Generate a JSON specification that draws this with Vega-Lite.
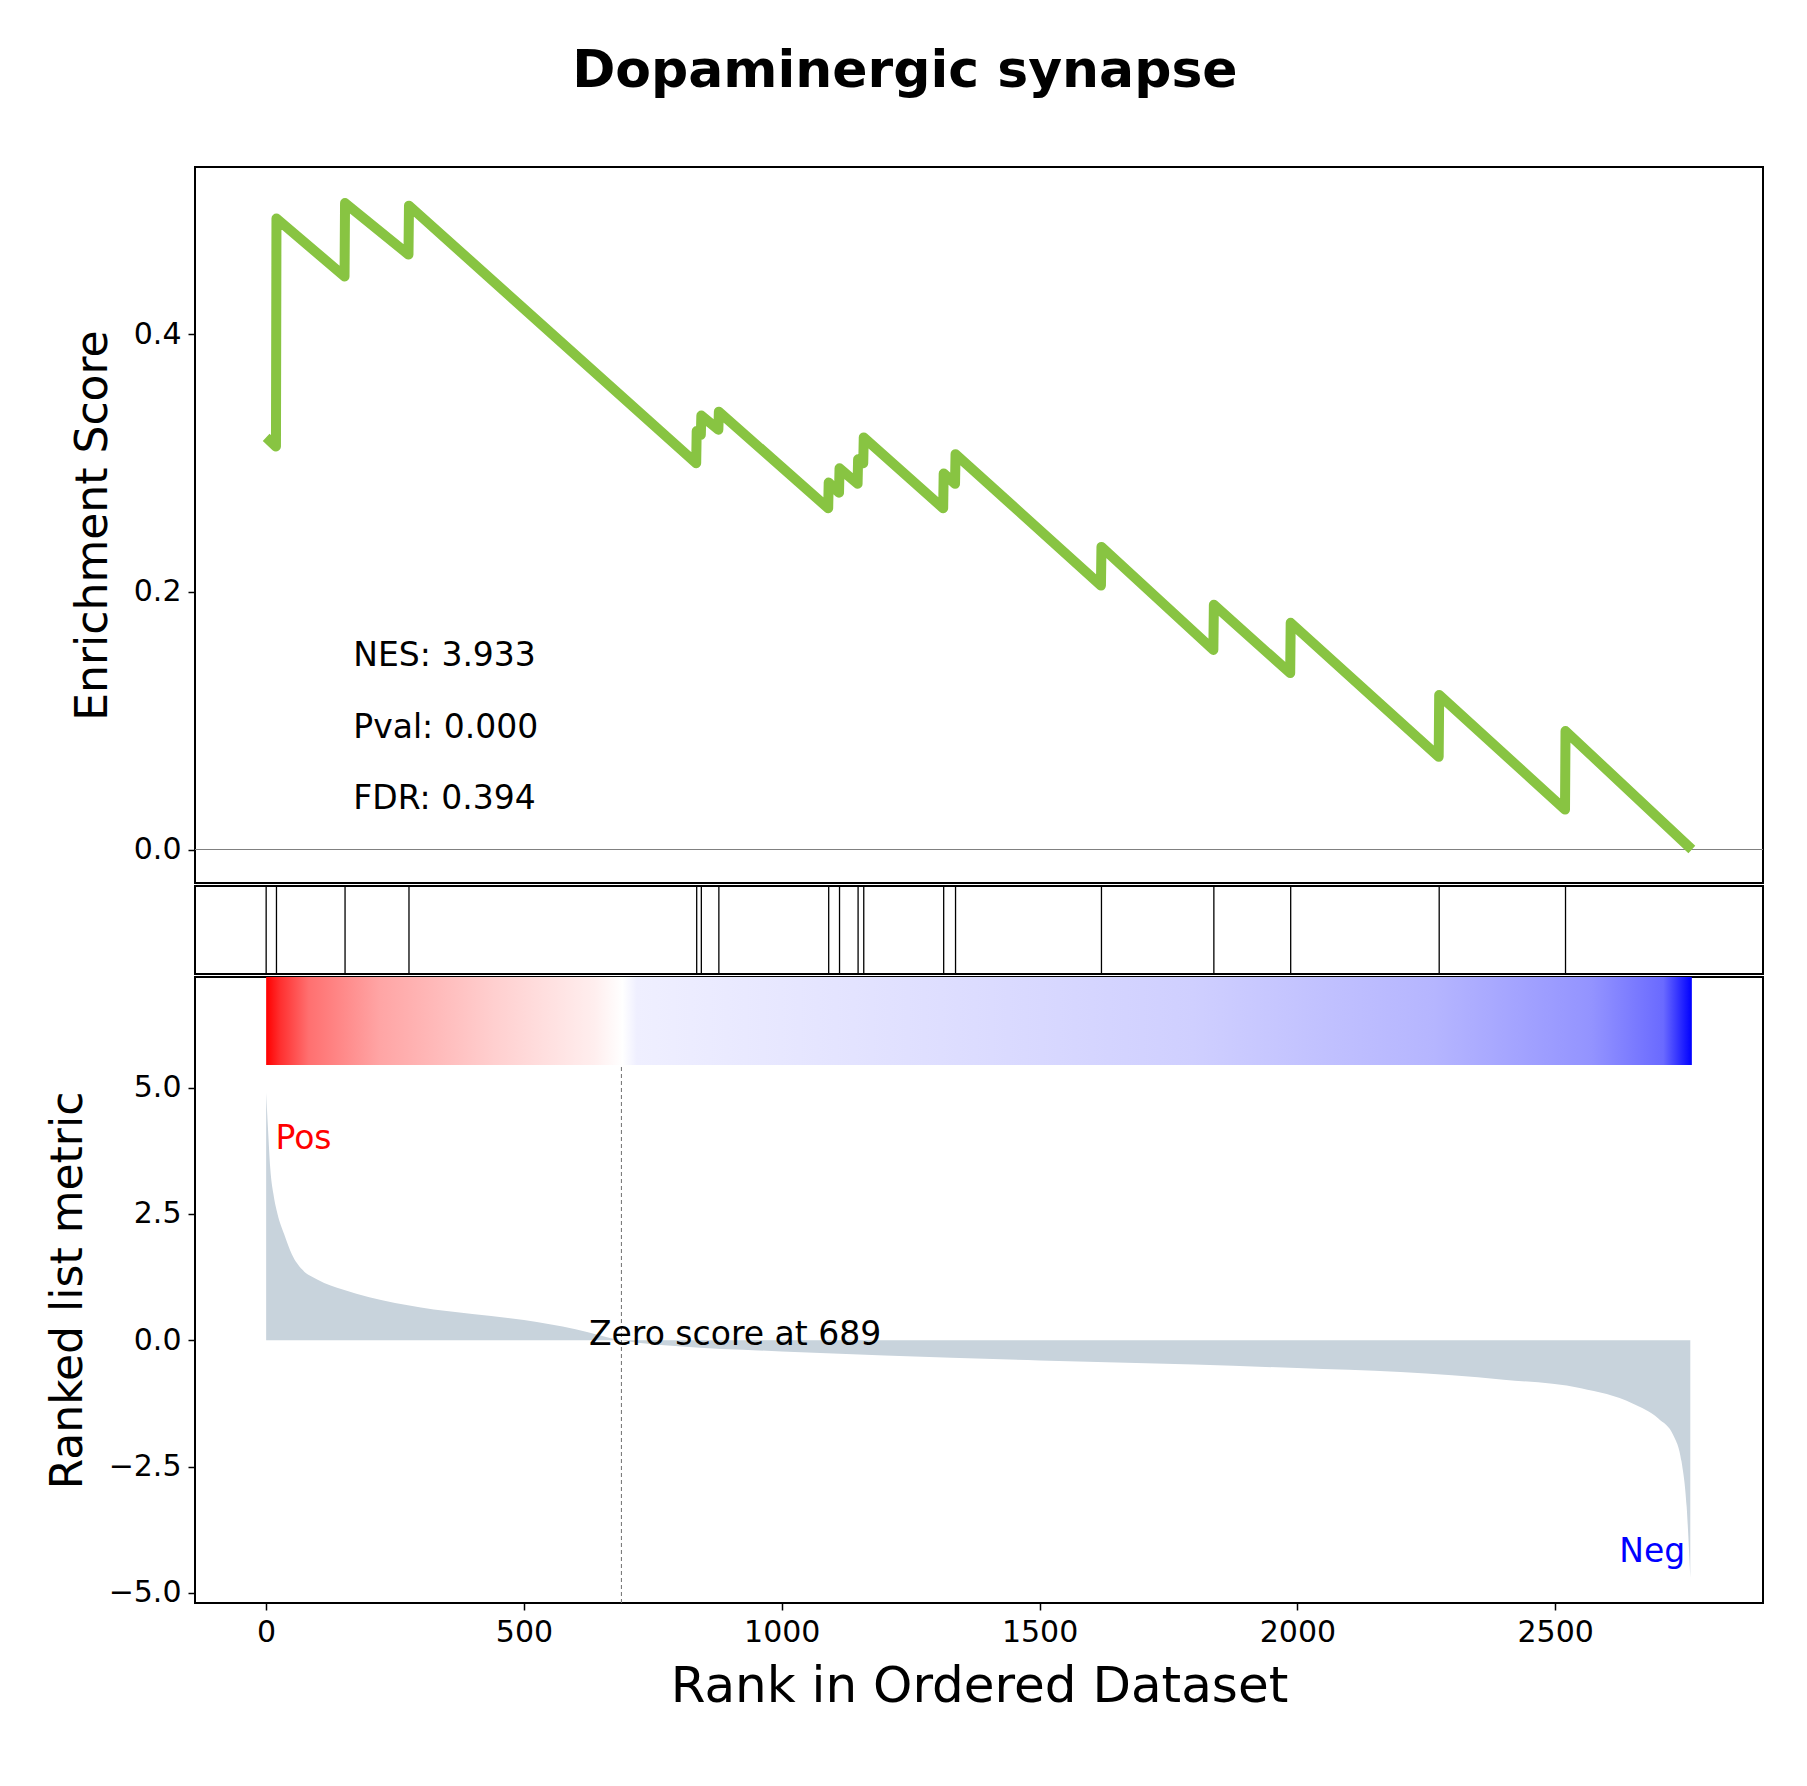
{
  "$schema": "https://vega.github.io/schema/vega-lite/v6.json",
  "background": "white",
  "padding": {"left": 45, "top": 45, "right": 25, "bottom": 10},
  "title": {"text": "Dopaminergic synapse", "fontSize": 52, "fontWeight": "bold", "font": "DejaVu Sans", "anchor": "middle", "offset": 68, "color": "black"},
  "datasets": {
    "es": [
      {"rank": 0, "es": 0.32}, {"rank": 19, "es": 0.313}, {"rank": 20, "es": 0.49},
      {"rank": 152, "es": 0.445}, {"rank": 153, "es": 0.502}, {"rank": 276, "es": 0.462},
      {"rank": 277, "es": 0.5}, {"rank": 834, "es": 0.30}, {"rank": 835, "es": 0.325},
      {"rank": 843, "es": 0.322}, {"rank": 844, "es": 0.337}, {"rank": 877, "es": 0.326},
      {"rank": 878, "es": 0.34}, {"rank": 1090, "es": 0.265}, {"rank": 1091, "es": 0.285},
      {"rank": 1111, "es": 0.277}, {"rank": 1112, "es": 0.296}, {"rank": 1147, "es": 0.284},
      {"rank": 1148, "es": 0.303}, {"rank": 1158, "es": 0.30}, {"rank": 1159, "es": 0.32},
      {"rank": 1313, "es": 0.265}, {"rank": 1314, "es": 0.292}, {"rank": 1336, "es": 0.284},
      {"rank": 1337, "es": 0.307}, {"rank": 1619, "es": 0.205}, {"rank": 1620, "es": 0.235},
      {"rank": 1837, "es": 0.155}, {"rank": 1838, "es": 0.19}, {"rank": 1986, "es": 0.137},
      {"rank": 1987, "es": 0.176}, {"rank": 2274, "es": 0.072}, {"rank": 2275, "es": 0.12},
      {"rank": 2519, "es": 0.031}, {"rank": 2520, "es": 0.092}, {"rank": 2765, "es": 0.0}
    ],
    "hits": [
      {"rank": 0}, {"rank": 20}, {"rank": 153}, {"rank": 277}, {"rank": 835}, {"rank": 844},
      {"rank": 878}, {"rank": 1091}, {"rank": 1112}, {"rank": 1148}, {"rank": 1159}, {"rank": 1314},
      {"rank": 1337}, {"rank": 1620}, {"rank": 1838}, {"rank": 1987}, {"rank": 2275}, {"rank": 2520}
    ],
    "metric": [
      {"rank": 0, "m": 4.9}, {"rank": 4, "m": 4.1}, {"rank": 8, "m": 3.4}, {"rank": 14, "m": 2.9},
      {"rank": 22, "m": 2.5}, {"rank": 35, "m": 2.1}, {"rank": 50, "m": 1.7}, {"rank": 70, "m": 1.4},
      {"rank": 100, "m": 1.2}, {"rank": 150, "m": 1.0}, {"rank": 200, "m": 0.85}, {"rank": 300, "m": 0.65},
      {"rank": 400, "m": 0.52}, {"rank": 500, "m": 0.4}, {"rank": 600, "m": 0.22}, {"rank": 689, "m": 0.0},
      {"rank": 800, "m": -0.12}, {"rank": 1000, "m": -0.22}, {"rank": 1200, "m": -0.3}, {"rank": 1500, "m": -0.4},
      {"rank": 1800, "m": -0.48}, {"rank": 2000, "m": -0.55}, {"rank": 2200, "m": -0.63}, {"rank": 2400, "m": -0.78},
      {"rank": 2550, "m": -0.95}, {"rank": 2650, "m": -1.25}, {"rank": 2700, "m": -1.55}, {"rank": 2730, "m": -1.9},
      {"rank": 2745, "m": -2.4}, {"rank": 2755, "m": -3.3}, {"rank": 2762, "m": -4.7}
    ],
    "bar": [{"x1": 0, "x2": 2765, "y1": 5.45, "y2": 7.19}],
    "stats": [
      {"rank": 169, "es": 0.15, "t": "NES: 3.933"},
      {"rank": 169, "es": 0.094, "t": "Pval: 0.000"},
      {"rank": 169, "es": 0.039, "t": "FDR: 0.394"}
    ]
  },
  "vconcat": [
    {
      "width": 1568,
      "height": 716,
      "layer": [
        {
          "data": {"values": [{"z": 0}]},
          "mark": {"type": "rule", "color": "#808080", "strokeWidth": 1.2},
          "encoding": {"y": {"field": "z", "type": "quantitative"}}
        },
        {
          "data": {"name": "es"},
          "mark": {"type": "line", "color": "#88c442", "strokeWidth": 10, "strokeJoin": "round"},
          "encoding": {
            "x": {"field": "rank", "type": "quantitative", "scale": {"domain": [-138, 2903], "nice": false, "zero": false}, "axis": null},
            "y": {"field": "es", "type": "quantitative", "scale": {"domain": [-0.026, 0.53], "nice": false, "zero": false},
                  "axis": {"title": "Enrichment Score", "values": [0, 0.2, 0.4], "format": ".1f", "titleFontSize": 44, "titleFontWeight": "normal", "titlePadding": 18}}
          }
        },
        {
          "data": {"name": "stats"},
          "mark": {"type": "text", "align": "left", "baseline": "middle", "fontSize": 33, "font": "DejaVu Sans"},
          "encoding": {
            "x": {"field": "rank", "type": "quantitative"},
            "y": {"field": "es", "type": "quantitative"},
            "text": {"field": "t"}
          }
        }
      ]
    },
    {
      "width": 1568,
      "height": 88,
      "data": {"name": "hits"},
      "mark": {"type": "rule", "color": "black", "strokeWidth": 1.3},
      "encoding": {
        "x": {"field": "rank", "type": "quantitative", "scale": {"domain": [-138, 2903], "nice": false, "zero": false}, "axis": null}
      }
    },
    {
      "width": 1568,
      "height": 626,
      "layer": [
        {
          "data": {"name": "bar"},
          "mark": {"type": "rect", "fill": {
            "x1": 0, "y1": 0, "x2": 1, "y2": 0, "gradient": "linear",
            "stops": [
              {"offset": 0, "color": "#ff0000"}, {"offset": 0.01, "color": "#ff3030"},
              {"offset": 0.03, "color": "#ff7070"}, {"offset": 0.08, "color": "#ffa5a5"},
              {"offset": 0.16, "color": "#ffcfcf"}, {"offset": 0.23, "color": "#ffeeee"},
              {"offset": 0.25, "color": "#ffffff"}, {"offset": 0.26, "color": "#efefff"},
              {"offset": 0.45, "color": "#e0e0ff"}, {"offset": 0.65, "color": "#cfcfff"},
              {"offset": 0.82, "color": "#b5b5ff"}, {"offset": 0.93, "color": "#9393ff"},
              {"offset": 0.98, "color": "#6a6aff"}, {"offset": 1, "color": "#0000ff"}
            ]}},
          "encoding": {
            "x": {"field": "x1", "type": "quantitative"},
            "x2": {"field": "x2"},
            "y": {"field": "y1", "type": "quantitative"},
            "y2": {"field": "y2"}
          }
        },
        {
          "data": {"name": "metric"},
          "mark": {"type": "area", "color": "#c8d3dc", "interpolate": "monotone"},
          "encoding": {
            "x": {"field": "rank", "type": "quantitative", "scale": {"domain": [-138, 2903], "nice": false, "zero": false},
                  "axis": {"title": "Rank in Ordered Dataset", "values": [0, 500, 1000, 1500, 2000, 2500], "format": "d", "titleFontSize": 50, "titleFontWeight": "normal", "titlePadding": 14}},
            "y": {"field": "m", "type": "quantitative", "scale": {"domain": [-5.2, 7.19], "nice": false, "zero": false},
                  "axis": {"title": "Ranked list metric", "values": [-5, -2.5, 0, 2.5, 5], "format": ".1f", "titleFontSize": 44, "titleFontWeight": "normal", "titlePadding": 18}},
            "y2": {"datum": 0}
          }
        },
        {
          "data": {"values": [{"rank": 689, "a": -5.2, "b": 5.45}]},
          "mark": {"type": "rule", "color": "#707070", "strokeWidth": 1, "strokeDash": [4, 3]},
          "encoding": {
            "x": {"field": "rank", "type": "quantitative"},
            "y": {"field": "a", "type": "quantitative"},
            "y2": {"field": "b"}
          }
        },
        {
          "data": {"values": [
            {"rank": 626, "m": 0.1, "t": "Zero score at 689", "c": "black", "al": "left"},
            {"rank": 18, "m": 3.98, "t": "Pos", "c": "red", "al": "left"},
            {"rank": 2752, "m": -4.2, "t": "Neg", "c": "blue", "al": "right"}
          ]},
          "layer": [
            {"transform": [{"filter": "datum.al == 'left'"}],
             "mark": {"type": "text", "align": "left", "baseline": "middle", "fontSize": 33, "font": "DejaVu Sans"},
             "encoding": {"x": {"field": "rank", "type": "quantitative"}, "y": {"field": "m", "type": "quantitative"}, "text": {"field": "t"}, "color": {"field": "c", "type": "nominal", "scale": null}}},
            {"transform": [{"filter": "datum.al == 'right'"}],
             "mark": {"type": "text", "align": "right", "baseline": "middle", "fontSize": 33, "font": "DejaVu Sans"},
             "encoding": {"x": {"field": "rank", "type": "quantitative"}, "y": {"field": "m", "type": "quantitative"}, "text": {"field": "t"}, "color": {"field": "c", "type": "nominal", "scale": null}}}
          ]
        }
      ]
    }
  ],
  "spacing": 0,
  "config": {
    "font": "DejaVu Sans",
    "view": {"stroke": "black", "strokeWidth": 2},
    "axis": {"domain": false, "grid": false, "tickColor": "black", "tickSize": 7, "tickWidth": 1.5, "labelFontSize": 30, "labelColor": "black", "titleColor": "black", "labelPadding": 7, "labelFont": "DejaVu Sans", "titleFont": "DejaVu Sans"}
  }
}
